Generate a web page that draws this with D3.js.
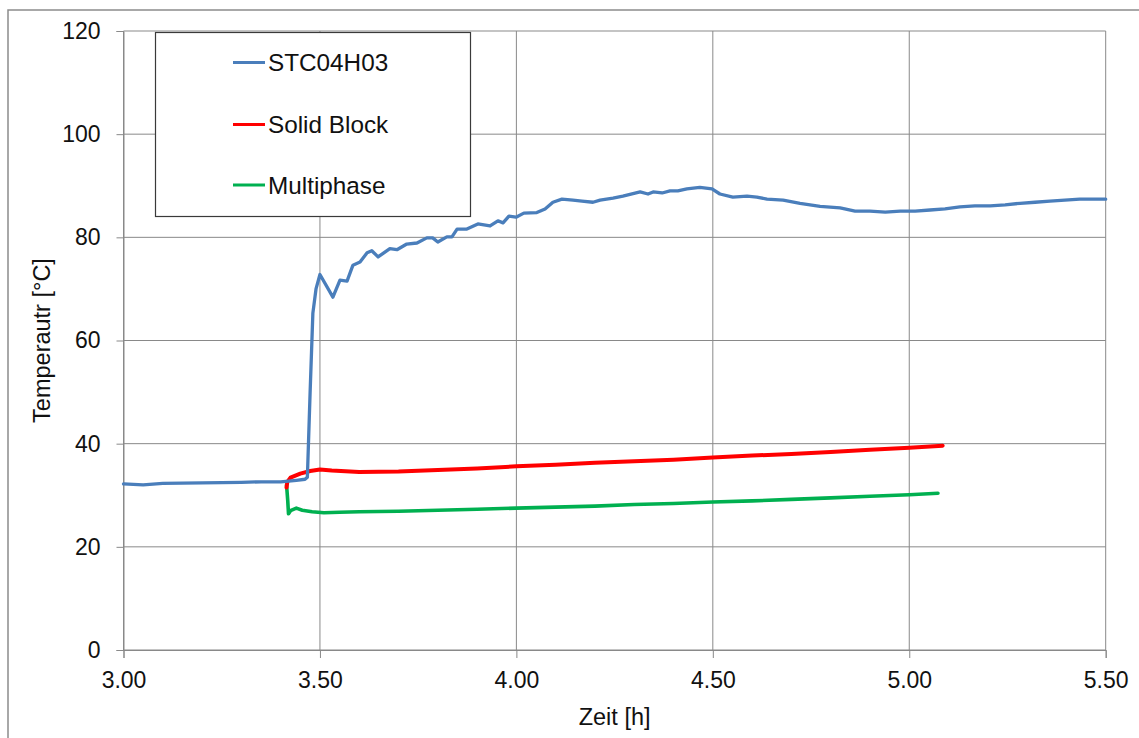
<!DOCTYPE html>
<html>
<head>
<meta charset="utf-8">
<script src="https://cdn.jsdelivr.net/npm/d3@7"></script>
<style>
  html, body { margin: 0; padding: 0; background: #fff; }
  svg { display: block; font-family: "Liberation Sans", Arial, sans-serif; }
</style>
</head>
<body>
<svg id="chart" width="1139" height="738"></svg>
<script>
// Measured sensor temperature (time in hours, temperature in °C)
const stcTime = [3.00, 3.05, 3.10, 3.20, 3.30, 3.35, 3.40, 3.44, 3.462, 3.468, 3.475, 3.482, 3.49, 3.50,
  3.533, 3.551, 3.569, 3.584, 3.602, 3.620, 3.632, 3.648, 3.678, 3.696, 3.721, 3.747, 3.772, 3.787,
  3.800, 3.823, 3.836, 3.849, 3.874, 3.902, 3.933, 3.953, 3.966, 3.981, 3.999, 4.019, 4.052, 4.073,
  4.093, 4.116, 4.144, 4.167, 4.195, 4.213, 4.246, 4.271, 4.315, 4.335, 4.348, 4.371, 4.391, 4.411,
  4.434, 4.467, 4.498, 4.518, 4.551, 4.587, 4.612, 4.638, 4.679, 4.722, 4.773, 4.824, 4.862, 4.900,
  4.939, 4.977, 5.015, 5.053, 5.091, 5.129, 5.167, 5.206, 5.244, 5.282, 5.320, 5.358, 5.396, 5.434, 5.50];
const stcTemp = [32.2, 32.0, 32.3, 32.4, 32.5, 32.6, 32.6, 32.9, 33.1, 33.5, 50.0, 65.3, 70.0, 72.8,
  68.4, 71.7, 71.5, 74.6, 75.2, 77.0, 77.4, 76.2, 77.8, 77.6, 78.7, 78.9, 79.9, 79.9,
  79.1, 80.1, 80.1, 81.6, 81.6, 82.6, 82.2, 83.2, 82.8, 84.1, 83.9, 84.7, 84.8, 85.5,
  86.8, 87.4, 87.2, 87.0, 86.8, 87.2, 87.6, 88.0, 88.8, 88.4, 88.8, 88.6, 89.0, 89.0,
  89.4, 89.7, 89.4, 88.4, 87.8, 88.0, 87.8, 87.4, 87.2, 86.6, 86.0, 85.7, 85.1, 85.1,
  84.9, 85.1, 85.1, 85.3, 85.5, 85.9, 86.1, 86.1, 86.3, 86.6, 86.8, 87.0, 87.2, 87.4, 87.4];

// Simulation: solid block model
const solidTime = [3.415, 3.417, 3.425, 3.45, 3.475, 3.50, 3.53, 3.60, 3.70, 3.80, 3.90, 4.00, 4.10,
  4.20, 4.30, 4.40, 4.50, 4.60, 4.70, 4.80, 4.90, 5.00, 5.085];
const solidTemp = [31.5, 32.6, 33.4, 34.2, 34.7, 35.0, 34.8, 34.5, 34.6, 34.9, 35.2, 35.6, 35.9,
  36.3, 36.6, 36.9, 37.3, 37.7, 38.0, 38.4, 38.8, 39.2, 39.6];

// Simulation: multiphase model
const multiTime = [3.415, 3.418, 3.42, 3.425, 3.44, 3.455, 3.48, 3.51, 3.55, 3.60, 3.70, 3.80, 3.90,
  4.00, 4.10, 4.20, 4.30, 4.40, 4.50, 4.60, 4.70, 4.80, 4.90, 5.00, 5.073];
const multiTemp = [32.0, 29.0, 26.4, 27.0, 27.5, 27.1, 26.8, 26.6, 26.7, 26.8, 26.9, 27.1, 27.3,
  27.5, 27.7, 27.9, 28.2, 28.4, 28.7, 28.9, 29.2, 29.5, 29.8, 30.1, 30.4];

const xTicks = [3.0, 3.5, 4.0, 4.5, 5.0, 5.5];
const yTicks = [0, 20, 40, 60, 80, 100, 120];

const seriesNames = ["STC04H03", "Solid Block", "Multiphase"];
const seriesColors = ["#4a7ebb", "#ff0000", "#00b050"];
const seriesWidths = [3.3, 4, 3.6];

const svg = d3.select("#chart");
const plot = { left: 123.5, right: 1105.7, top: 31, bottom: 650 };

const x = d3.scaleLinear().domain([3.0, 5.5]).range([plot.left, plot.right]);
const y = d3.scaleLinear().domain([0, 120]).range([plot.bottom, plot.top]);

// Outer chart frame (runs off the right and bottom edges)
svg.append("path")
  .attr("d", "M8,1200 L8,10 L1200,10")
  .attr("fill", "none").attr("stroke", "#8c8c8c").attr("stroke-width", 1.5);

// Gridlines
const grid = svg.append("g");
grid.selectAll("line.h").data(yTicks).join("line")
  .attr("x1", plot.left).attr("x2", plot.right)
  .attr("y1", d => y(d)).attr("y2", d => y(d))
  .attr("stroke", "#898989").attr("stroke-width", 1);
grid.selectAll("line.v").data(xTicks).join("line")
  .attr("x1", d => x(d)).attr("x2", d => x(d))
  .attr("y1", plot.top).attr("y2", plot.bottom)
  .attr("stroke", "#898989").attr("stroke-width", 1);

// Axes
const yAxis = d3.axisLeft(y).tickValues(yTicks).tickSize(7).tickPadding(16).tickFormat(d3.format("d"));
const xAxis = d3.axisBottom(x).tickValues(xTicks).tickSize(8).tickPadding(10).tickFormat(d3.format(".2f"));

const gy = svg.append("g").attr("transform", `translate(${plot.left},0)`).call(yAxis);
const gx = svg.append("g").attr("transform", `translate(0,${plot.bottom})`).call(xAxis);
[gy, gx].forEach(g => {
  g.select(".domain").attr("stroke", "#898989").attr("stroke-width", 1);
  g.selectAll(".tick line").attr("stroke", "#898989");
  g.selectAll(".tick text").attr("fill", "#111").style("font-size", "23px")
    .style("font-family", '"Liberation Sans", Arial, sans-serif');
});
gx.selectAll(".tick text").attr("dy", "0.85em");

// Axis titles
svg.append("text")
  .attr("transform", `translate(50,${(plot.top + plot.bottom) / 2}) rotate(-90)`)
  .attr("text-anchor", "middle").attr("fill", "#111").style("font-size", "23.5px")
  .text("Temperautr [°C]");
svg.append("text")
  .attr("x", (plot.left + plot.right) / 2).attr("y", 725)
  .attr("text-anchor", "middle").attr("fill", "#111").style("font-size", "23.5px")
  .text("Zeit [h]");

// Series lines
const line = d3.line().x(d => x(d[0])).y(d => y(d[1]));
const seriesData = [
  d3.zip(stcTime, stcTemp),
  d3.zip(solidTime, solidTemp),
  d3.zip(multiTime, multiTemp)
];
// draw multiphase first, then solid block, then sensor on top
[2, 1, 0].forEach(i => {
  svg.append("path")
    .datum(seriesData[i])
    .attr("d", line)
    .attr("fill", "none")
    .attr("stroke", seriesColors[i])
    .attr("stroke-width", seriesWidths[i])
    .attr("stroke-linejoin", "round")
    .attr("stroke-linecap", "round");
});

// Legend
const legend = svg.append("g");
legend.append("rect")
  .attr("x", 155.5).attr("y", 32.5).attr("width", 315).attr("height", 184)
  .attr("fill", "#fff").attr("stroke", "#3a3a3a").attr("stroke-width", 1.2);
const legendY = [62.5, 124.5, 185];
seriesNames.forEach((name, i) => {
  legend.append("line")
    .attr("x1", 233).attr("x2", 265)
    .attr("y1", legendY[i]).attr("y2", legendY[i])
    .attr("stroke", seriesColors[i]).attr("stroke-width", 3);
  legend.append("text")
    .attr("x", 268).attr("y", legendY[i]).attr("dy", "0.35em")
    .attr("fill", "#111").style("font-size", "24.3px")
    .text(name);
});
</script>
</body>
</html>
